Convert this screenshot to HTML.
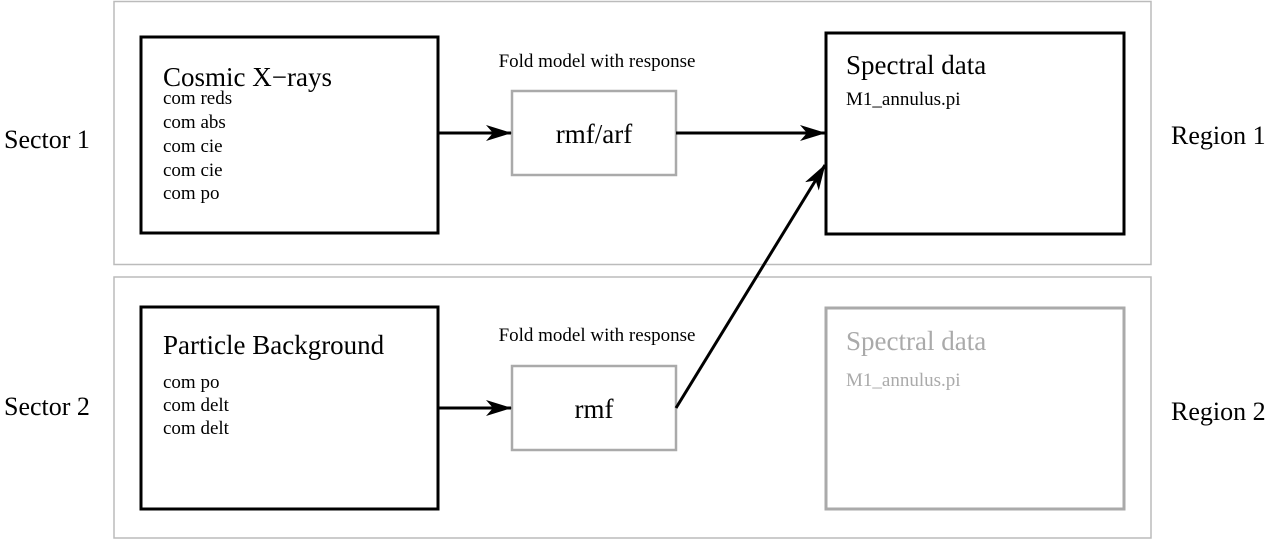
<!DOCTYPE html>
<html><head><meta charset="utf-8"><style>
html,body{margin:0;padding:0;background:#fff;}
svg{display:block;}
text{font-family:"Liberation Serif","Times New Roman","DejaVu Serif",serif;}
</style></head><body>
<svg width="1280" height="541" viewBox="0 0 1280 541" xmlns="http://www.w3.org/2000/svg" font-family="Liberation Serif, serif">
<defs>
<marker id="ah2" viewBox="0 0 26 16" markerWidth="26" markerHeight="16" refX="25" refY="8" orient="auto" markerUnits="userSpaceOnUse">
<path d="M0,0 L26,8 L0,16 L7,8 Z" fill="#000"/>
</marker>
</defs>
<rect x="114" y="1.5" width="1037" height="263" fill="none" stroke="#bbb" stroke-width="1.5"/>
<rect x="114" y="277" width="1037" height="261" fill="none" stroke="#bbb" stroke-width="1.5"/>

<text x="4" y="148" font-size="26">Sector 1</text>
<text x="4" y="415" font-size="26">Sector 2</text>
<text x="1171" y="144" font-size="26">Region 1</text>
<text x="1171" y="420" font-size="26">Region 2</text>

<rect x="141" y="37" width="297" height="196" fill="none" stroke="#000" stroke-width="3"/>
<text x="163" y="86" font-size="27">Cosmic X−rays</text>
<g font-size="19"><text x="163" y="104">com reds</text><text x="163" y="128">com abs</text><text x="163" y="152">com cie</text><text x="163" y="176">com cie</text><text x="163" y="199">com po</text></g>

<rect x="141" y="307" width="297" height="202" fill="none" stroke="#000" stroke-width="3"/>
<text x="163" y="354" font-size="27">Particle Background</text>
<g font-size="19"><text x="163" y="388">com po</text><text x="163" y="411">com delt</text><text x="163" y="434">com delt</text></g>

<text x="597" y="67" font-size="19" text-anchor="middle">Fold model with response</text>
<rect x="512" y="91" width="164" height="84" fill="none" stroke="#aaa" stroke-width="2.5"/>
<text x="594" y="143" font-size="27" text-anchor="middle">rmf/arf</text>

<text x="597" y="341" font-size="19" text-anchor="middle">Fold model with response</text>
<rect x="512" y="366" width="164" height="84" fill="none" stroke="#aaa" stroke-width="2.5"/>
<text x="594" y="418" font-size="27" text-anchor="middle">rmf</text>

<rect x="826" y="33" width="298" height="201" fill="none" stroke="#000" stroke-width="3"/>
<text x="846" y="74" font-size="27">Spectral data</text>
<text x="846" y="105" font-size="19">M1_annulus.pi</text>

<rect x="826" y="308" width="298" height="201" fill="none" stroke="#aaa" stroke-width="3"/>
<text x="846" y="350" font-size="27" fill="#aaa">Spectral data</text>
<text x="846" y="386" font-size="19" fill="#aaa">M1_annulus.pi</text>

<g stroke="#000" stroke-width="3" fill="none">
<line x1="439" y1="133" x2="511" y2="133" marker-end="url(#ah2)"/>
<line x1="676" y1="133" x2="825" y2="133" marker-end="url(#ah2)"/>
<line x1="439" y1="408" x2="511" y2="408" marker-end="url(#ah2)"/>
<line x1="676" y1="408" x2="825" y2="165" marker-end="url(#ah2)"/>
</g>
</svg>
</body></html>
